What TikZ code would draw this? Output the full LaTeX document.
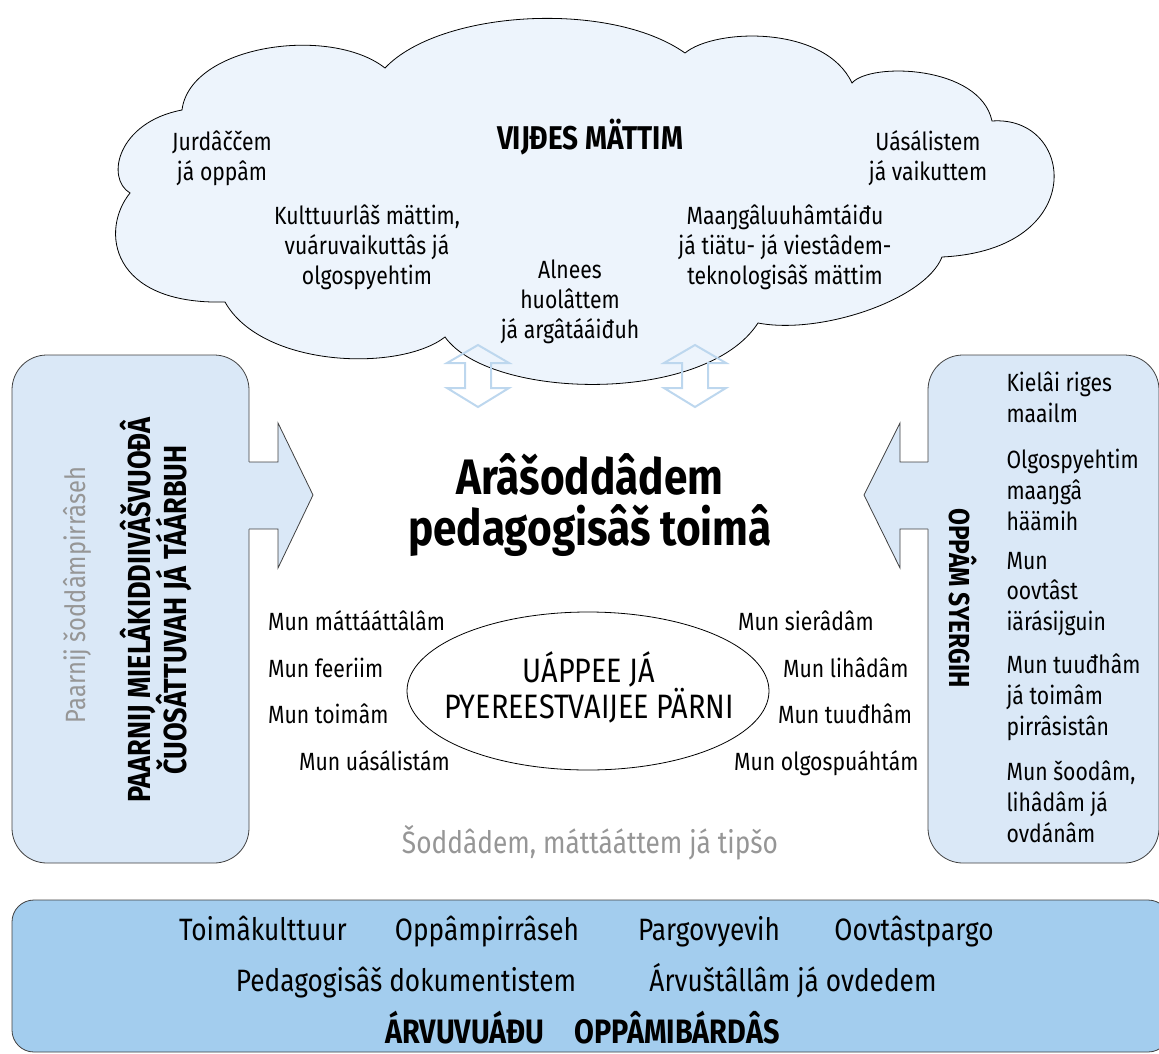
\documentclass[tikz,border=0pt]{standalone}
\usepackage{fontspec}
\setmainfont{Fira Sans}[FakeStretch=0.85]
\usepackage{tikz}
\usetikzlibrary{positioning,calc}

\definecolor{cloudfill}{HTML}{EDF4FC}
\definecolor{panelfill}{HTML}{DAE8F7}
\definecolor{barfill}{HTML}{A3CDEE}
\definecolor{arrowline}{HTML}{BDD7EE}
\definecolor{softgray}{HTML}{969696}
\definecolor{edgegray}{HTML}{404040}

\begin{document}
\begin{tikzpicture}[x=1bp,y=-1bp,
    cloudtxt/.style={align=center, font=\fontsize{25}{30}\selectfont},
    listtxt/.style={align=left, anchor=west, font=\fontsize{25}{31}\selectfont},
    muntxt/.style={anchor=base west, inner sep=1pt, font=\fontsize{25}{28}\selectfont},
    bartxt/.style={anchor=base, font=\fontsize{31}{34}\selectfont},
    sidetitle/.style={align=center, font=\bfseries\fontsize{32}{27}\selectfont},
    panel/.style={draw=edgegray, line width=0.8pt, fill=panelfill, rounded corners=35},
    blockarrow/.style={draw=edgegray, line width=0.8pt},
    dblarrow/.style={draw=arrowline, line width=2pt}]
\useasboundingbox (0,0) rectangle (1159,1054);

    % Cloud
    \draw[fill=cloudfill, line width=0.8pt]
        (130,193) .. controls (105,178) and (118,122) .. (182,110)
        .. controls (190,45) and (330,25) .. (385,68)
        .. controls (440,10) and (610,0) .. (685,53)
        .. controls (715,28) and (825,25) .. (852,83)
        .. controls (870,62) and (980,65) .. (992,121)
        .. controls (1075,115) and (1090,250) .. (942,257)
        .. controls (925,300) and (820,335) .. (758,323)
        .. controls (705,405) and (490,400) .. (445,337)
        .. controls (400,372) and (262,368) .. (225,302)
        .. controls (110,305) and (100,230) .. (130,193) -- cycle;

    \node[cloudtxt, font=\bfseries\fontsize{33}{30}\selectfont] (vijdes) at (590,137) {VIJĐES MÄTTIM};
    \node[cloudtxt] (jurd) at (222,158) {Jurdâččem\\já oppâm};
    \node[cloudtxt] (uas) at (928,158) {Uásálistem\\já vaikuttem};
    \node[cloudtxt] (kult) at (367,247) {Kulttuurlâš mättim,\\vuáruvaikuttâs já\\olgospyehtim};
    \node[cloudtxt] (maan) at (785,247) {Maaŋgâluuhâmtáiđu\\já tiätu- já viestâdem-\\teknologisâš mättim};
    \node[cloudtxt] (alnees) at (570,302) {Alnees\\huolâttem\\já argâtááiđuh};

    % Double arrows under the cloud
    \foreach \ax in {478,695}
        \draw[dblarrow] (\ax-13,363) -- (\ax-31,363) -- (\ax,345) -- (\ax+31,363) -- (\ax+13,363)
            -- (\ax+13,388) -- (\ax+31,388) -- (\ax,407) -- (\ax-31,388) -- (\ax-13,388) -- cycle;

    % Left panel
    \draw[panel] (12,355) rectangle (249,863);
    \fill[panelfill] (247,462) -- (278,462) -- (278,423) -- (313,495) -- (278,568) -- (278,529) -- (247,529) -- cycle;
    \draw[blockarrow] (249,462) -- (278,462) -- (278,423) -- (313,495) -- (278,568) -- (278,529) -- (249,529);
    \node[rotate=90, text=softgray, font=\fontsize{28}{30}\selectfont] (pirras) at (77,595) {Paarnij šoddâmpirrâseh};
    \node[sidetitle, rotate=90] (mielak) at (156,610) {PAARNIJ MIELÂKIDDIIVÂŠVUOĐÂ\\ČUOSÂTTUVAH JÁ TÁÁRBUH};

    % Right panel
    \draw[panel] (928,355) rectangle (1159,863);
    \fill[panelfill] (930,462) -- (900,462) -- (900,423) -- (864,495) -- (900,568) -- (900,529) -- (930,529) -- cycle;
    \draw[blockarrow] (928,462) -- (900,462) -- (900,423) -- (864,495) -- (900,568) -- (900,529) -- (928,529);
    \node[sidetitle, rotate=-90, font=\bfseries\fontsize{29}{27}\selectfont] (syergih) at (963,598) {OPPÂM SYERGIH};
    \node[listtxt] (riges) at (1003,397) {Kielâi riges\\maailm};
    \node[listtxt] (haamih) at (1003,490) {Olgospyehtim\\maaŋgâ\\häämih};
    \node[listtxt] (oovtast) at (1003,594) {Mun\\oovtâst\\iärásijguin};
    \node[listtxt] (tuudham) at (1003,697) {Mun tuuđhâm\\já toimâm\\pirrâsistân};
    \node[listtxt] (soodam) at (1003,802) {Mun šoodâm,\\lihâdâm já\\ovdánâm};

    % Center
    \node[align=center, font=\bfseries\fontsize{50}{52}\selectfont] (toima) at (590,505) {Arâšoddâdem\\pedagogisâš toimâ};

    \draw[line width=0.8pt] (588,691) ellipse (181 and 79);
    \node[align=center, font=\fontsize{34}{33}\selectfont] (parni) at (589,687) {UÁPPEE JÁ\\PYEREESTVAIJEE PÄRNI};

    \node[muntxt] (mun1) at (267,630) {Mun máttááttâlâm};
    \node[muntxt] (mun2) at (267,677) {Mun feeriim};
    \node[muntxt] (mun3) at (267,723) {Mun toimâm};
    \node[muntxt] (mun4) at (298,770) {Mun uásálistám};
    \node[muntxt] (mun5) at (737,630) {Mun sierâdâm};
    \node[muntxt] (mun6) at (782,677) {Mun lihâdâm};
    \node[muntxt] (mun7) at (777,723) {Mun tuuđhâm};
    \node[muntxt] (mun8) at (733,770) {Mun olgospuáhtám};

    \node[text=softgray, font=\fontsize{31}{34}\selectfont] (tipso) at (590,843) {Šoddâdem, máttááttem já tipšo};

    % Bottom bar
    \draw[fill=barfill, line width=0.8pt, draw=edgegray, rounded corners=22] (12,900) rectangle (1170,1052);
    \node[bartxt] (kult2) at (263,940) {Toimâkulttuur};
    \node[bartxt] (pirr) at (487,940) {Oppâmpirrâseh};
    \node[bartxt] (pargo) at (709,940) {Pargovyevih};
    \node[bartxt] (oovt) at (914,940) {Oovtâstpargo};
    \node[bartxt] (dok) at (406,991) {Pedagogisâš dokumentistem};
    \node[bartxt] (arvu) at (793,991) {Árvuštâllâm já ovdedem};
    \node[bartxt, font=\bfseries\fontsize{34}{34}\selectfont] (vuadu) at (465,1043) {ÁRVUVUÁĐU};
    \node[bartxt, font=\bfseries\fontsize{34}{34}\selectfont] (bardas) at (677,1043) {OPPÂMIBÁRDÂS};
\end{tikzpicture}
\end{document}
